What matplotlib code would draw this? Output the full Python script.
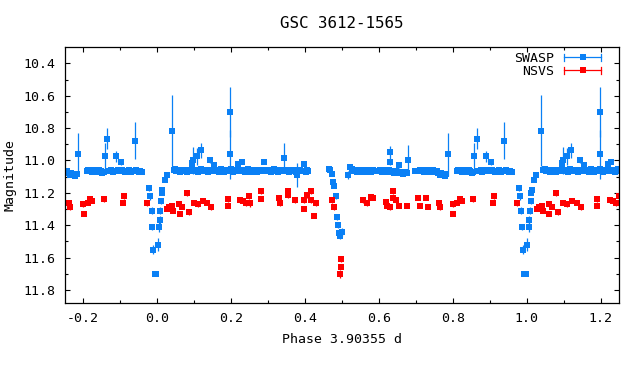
import numpy as np
import matplotlib
matplotlib.use("Agg")
import matplotlib.pyplot as plt
from matplotlib.ticker import MultipleLocator, FormatStrFormatter
from matplotlib.legend_handler import HandlerBase
from matplotlib.lines import Line2D

plt.rcParams['font.family'] = 'DejaVu Sans Mono'
plt.rcParams['font.size'] = 9.5
plt.rcParams['axes.unicode_minus'] = False

PERIOD = "3.90355"
STAR = "GSC 3612-1565"

# SWASP out-of-eclipse points (phase 0..1), one typical error bar
swasp_base_phase = [
    0.045, 0.048, 0.052, 0.055, 0.059, 0.062, 0.066, 0.069, 0.073, 0.076,
    0.080, 0.083, 0.087, 0.090, 0.094, 0.101, 0.104, 0.107, 0.111, 0.115,
    0.118, 0.124, 0.127, 0.131, 0.134, 0.138, 0.141, 0.146, 0.149, 0.152,
    0.157, 0.160, 0.164, 0.167, 0.171, 0.174, 0.178, 0.181, 0.185, 0.188,
    0.192, 0.195, 0.199, 0.203, 0.206, 0.210, 0.213, 0.217, 0.221, 0.224,
    0.228, 0.232, 0.236, 0.239, 0.243, 0.246, 0.250, 0.254, 0.257, 0.261,
    0.264, 0.268, 0.271, 0.275, 0.279, 0.282, 0.286, 0.290, 0.294,
    0.301, 0.305, 0.308, 0.312, 0.316, 0.319, 0.323, 0.327, 0.330, 0.334,
    0.338, 0.346, 0.349, 0.353, 0.357, 0.360, 0.364, 0.368, 0.372, 0.375,
    0.383, 0.387, 0.391, 0.399, 0.402, 0.406, 0.409,
    0.527, 0.531, 0.535, 0.538, 0.542, 0.546, 0.549, 0.553, 0.557, 0.561,
    0.564, 0.568, 0.572, 0.576, 0.579, 0.583, 0.587, 0.591,
    0.600, 0.603, 0.607, 0.611, 0.614, 0.618, 0.622, 0.626, 0.634, 0.638,
    0.642, 0.645, 0.649, 0.657, 0.661, 0.665, 0.668, 0.672, 0.676,
    0.711, 0.715, 0.719, 0.722, 0.726, 0.730, 0.734, 0.737, 0.741, 0.745,
    0.749, 0.752, 0.756, 0.760, 0.764, 0.767, 0.771, 0.775, 0.779, 0.782,
    0.810, 0.813, 0.817, 0.821, 0.824, 0.828, 0.832, 0.836, 0.840, 0.843,
    0.847, 0.851, 0.855, 0.868, 0.872, 0.876, 0.880, 0.884, 0.893, 0.897,
    0.906, 0.910, 0.914, 0.918, 0.921, 0.925, 0.929, 0.933, 0.944, 0.948,
    0.952, 0.955, 0.959,
]
swasp_base_mag = [
    11.060, 11.055, 11.068, 11.062, 11.058, 11.071, 11.064, 11.057, 11.066, 11.060,
    11.073, 11.059, 11.063, 11.068, 11.052, 11.060, 11.066, 11.058, 11.070, 11.061,
    11.055, 11.064, 11.067, 11.058, 11.062, 11.070, 11.056, 11.063, 11.059, 11.068,
    11.061, 11.057, 11.066, 11.072, 11.060, 11.054, 11.063, 11.069, 11.058, 11.064,
    11.060, 11.067, 11.055, 11.062, 11.070, 11.059, 11.065, 11.061, 11.057, 11.068,
    11.063, 11.058, 11.066, 11.072, 11.060, 11.055, 11.064, 11.069, 11.061, 11.057,
    11.066, 11.060, 11.070, 11.063, 11.058, 11.065, 11.061, 11.068, 11.062,
    11.058, 11.064, 11.070, 11.061, 11.055, 11.066, 11.060, 11.072, 11.063, 11.057,
    11.068, 11.062, 11.056, 11.065, 11.071, 11.059, 11.064, 11.067, 11.060, 11.073,
    11.062, 11.057, 11.068, 11.063, 11.070, 11.058, 11.065,
    11.055, 11.062, 11.068, 11.060, 11.073, 11.064, 11.058, 11.066, 11.071, 11.060,
    11.063, 11.069, 11.057, 11.065, 11.072, 11.061, 11.067, 11.063,
    11.062, 11.058, 11.070, 11.064, 11.060, 11.067, 11.073, 11.061, 11.066, 11.070,
    11.075, 11.068, 11.080, 11.078, 11.072, 11.083, 11.076, 11.070, 11.079,
    11.060, 11.066, 11.057, 11.070, 11.063, 11.068, 11.059, 11.072, 11.065, 11.061,
    11.069, 11.074, 11.066, 11.080, 11.088, 11.078, 11.092, 11.085, 11.096, 11.082,
    11.063, 11.058, 11.067, 11.061, 11.070, 11.064, 11.058, 11.066, 11.072, 11.060,
    11.068, 11.080, 11.074, 11.062, 11.067, 11.059, 11.070, 11.064, 11.061, 11.068,
    11.057, 11.065, 11.071, 11.062, 11.066, 11.059, 11.069, 11.063, 11.060, 11.067,
    11.072, 11.064, 11.070,
]
swasp_base_err = 0.012

# SWASP eclipses and scattered points
swasp_phase = [
    0.979, 0.982, 0.985, 0.9875, 0.990, 0.993, 0.997, 0.0015, 0.005, 0.007,
    0.0075, 0.0105, 0.0125, 0.014, 0.0205, 0.0255,
    0.466, 0.469, 0.4725, 0.477, 0.4795, 0.483, 0.487, 0.490, 0.4925, 0.496,
    0.500, 0.517, 0.522,
    0.039, 0.094, 0.098, 0.109, 0.120, 0.144, 0.155, 0.197, 0.197, 0.220,
    0.229, 0.288, 0.342, 0.378, 0.396, 0.630, 0.630, 0.653, 0.680, 0.698,
    0.787, 0.858, 0.864, 0.890, 0.903, 0.939,
]
swasp_mag = [
    11.169, 11.222, 11.310, 11.410, 11.550, 11.700, 11.700, 11.520, 11.410, 11.370,
    11.310, 11.250, 11.200, 11.180, 11.120, 11.090,
    11.050, 11.060, 11.085, 11.130, 11.155, 11.220, 11.350, 11.400, 11.450, 11.465,
    11.440, 11.090, 11.040,
    10.815, 11.017, 11.000, 10.975, 10.938, 11.000, 11.030, 10.700, 10.963, 11.020,
    11.010, 11.010, 10.985, 11.090, 11.020, 10.950, 11.010, 11.030, 10.995, 11.068,
    10.963, 10.970, 10.866, 10.975, 11.010, 10.877,
]
swasp_err = [
    0.018, 0.020, 0.020, 0.020, 0.030, 0.012, 0.012, 0.040, 0.030, 0.030,
    0.020, 0.020, 0.015, 0.015, 0.012, 0.012,
    0.012, 0.012, 0.012, 0.012, 0.015, 0.015, 0.020, 0.020, 0.020, 0.020,
    0.025, 0.024, 0.012,
    0.220, 0.020, 0.085, 0.050, 0.045, 0.015, 0.015, 0.155, 0.150, 0.015,
    0.012, 0.012, 0.090, 0.073, 0.015, 0.040, 0.015, 0.015, 0.090, 0.012,
    0.130, 0.080, 0.066, 0.035, 0.015, 0.114,
]

# NSVS points
nsvs_phase = [
    0.028, 0.032, 0.041, 0.044, 0.060, 0.061, 0.068, 0.080, 0.085, 0.099,
    0.110, 0.123, 0.135, 0.147, 0.191, 0.191, 0.224, 0.233, 0.241, 0.249,
    0.2515, 0.282, 0.282, 0.331, 0.333, 0.355, 0.355, 0.374, 0.398, 0.398,
    0.405, 0.4165, 0.417, 0.4255, 0.430, 0.474, 0.4795, 0.4977, 0.497, 0.495,
    0.556, 0.567, 0.578, 0.585, 0.619, 0.623, 0.630, 0.6375, 0.639, 0.646,
    0.653, 0.677, 0.707, 0.711, 0.7276, 0.734, 0.762, 0.764, 0.800, 0.801,
    0.812, 0.818, 0.824, 0.855, 0.909, 0.911, 0.973,
]
nsvs_mag = [
    11.300, 11.290, 11.280, 11.310, 11.270, 11.330, 11.285, 11.200, 11.320, 11.260,
    11.270, 11.250, 11.260, 11.290, 11.240, 11.280, 11.246, 11.250, 11.265, 11.220,
    11.265, 11.190, 11.235, 11.230, 11.265, 11.190, 11.215, 11.245, 11.245, 11.300,
    11.215, 11.190, 11.245, 11.340, 11.265, 11.245, 11.290, 11.610, 11.655, 11.700,
    11.245, 11.265, 11.225, 11.230, 11.255, 11.280, 11.290, 11.190, 11.230, 11.245,
    11.280, 11.280, 11.230, 11.280, 11.230, 11.285, 11.260, 11.290, 11.270, 11.330,
    11.260, 11.240, 11.250, 11.240, 11.260, 11.220, 11.265,
]
nsvs_err = [
    0.015, 0.015, 0.015, 0.015, 0.015, 0.015, 0.015, 0.020, 0.015, 0.015,
    0.015, 0.015, 0.015, 0.015, 0.015, 0.015, 0.015, 0.015, 0.015, 0.020,
    0.020, 0.015, 0.015, 0.015, 0.015, 0.015, 0.015, 0.015, 0.015, 0.015,
    0.015, 0.015, 0.015, 0.015, 0.015, 0.015, 0.015, 0.020, 0.015, 0.025,
    0.015, 0.015, 0.015, 0.015, 0.015, 0.015, 0.015, 0.020, 0.015, 0.015,
    0.015, 0.015, 0.015, 0.015, 0.015, 0.015, 0.015, 0.015, 0.015, 0.015,
    0.015, 0.015, 0.015, 0.015, 0.015, 0.020, 0.015,
]

BLUE = '#0a80f5'
RED = '#ff0000'


def fold(phase, mag, err):
    # repeat the last/first quarter of the cycle on both sides
    phase = np.asarray(phase, float)
    mag = np.asarray(mag, float)
    err = np.broadcast_to(np.asarray(err, float), phase.shape)
    lo = phase >= 0.75
    hi = phase <= 0.25
    ph = np.concatenate([phase, phase[lo] - 1, phase[hi] + 1])
    m = np.concatenate([mag, mag[lo], mag[hi]])
    e = np.concatenate([err, err[lo], err[hi]])
    return ph, m, e


class ErrKey(HandlerBase):
    # gnuplot-like key: horizontal bar with end caps and a point in the middle
    def create_artists(self, legend, orig_handle, xdescent, ydescent,
                       width, height, fontsize, trans):
        c = orig_handle.get_color()
        x0, x1 = -xdescent, -xdescent + width
        y = -ydescent + height / 2
        h = 2.5
        arts = [
            Line2D([x0, x1], [y, y], color=c, lw=0.9),
            Line2D([x0, x0], [y - h, y + h], color=c, lw=0.9),
            Line2D([x1, x1], [y - h, y + h], color=c, lw=0.9),
            Line2D([(x0 + x1) / 2], [y], color=c, marker='s', ms=4.5,
                   mew=0, ls='none'),
        ]
        for a in arts:
            a.set_transform(trans)
        return arts


fig = plt.figure(figsize=(6.4, 3.84), dpi=100)
ax = fig.add_axes([64.7 / 640, 80.7 / 384, 554.5 / 640, 256 / 384])

sp, sm, se = fold(swasp_base_phase + swasp_phase,
                  swasp_base_mag + swasp_mag,
                  [swasp_base_err] * len(swasp_base_phase) + swasp_err)
ax.errorbar(sp, sm, yerr=se, fmt='s', color=BLUE, ms=4.5, mew=0,
            elinewidth=0.9, capsize=1.8, capthick=0.9)

npx, nm, ne = fold(nsvs_phase, nsvs_mag, nsvs_err)
ax.errorbar(npx, nm, yerr=ne, fmt='s', color=RED, ms=4.8, mew=0,
            elinewidth=0.9, capsize=1.8, capthick=0.9)

ax.set_xlim(-0.25, 1.25)
ax.set_ylim(11.882, 10.301)

ax.xaxis.set_major_locator(MultipleLocator(0.2))
ax.xaxis.set_minor_locator(MultipleLocator(0.1))
ax.yaxis.set_major_locator(MultipleLocator(0.2))
ax.yaxis.set_minor_locator(MultipleLocator(0.1))
ax.xaxis.set_major_formatter(FormatStrFormatter('%.1f'))
ax.yaxis.set_major_formatter(FormatStrFormatter('%.1f'))
ax.tick_params(which='both', direction='in', top=True, right=True,
               width=0.8, color='black')
ax.tick_params(which='major', length=3.6)
ax.tick_params(which='minor', length=1.9)
ax.tick_params(axis='x', pad=6)
ax.tick_params(axis='y', pad=6.5)
for s in ax.spines.values():
    s.set_linewidth(0.9)

ax.set_title(STAR, pad=14)
ax.set_xlabel("Phase " + PERIOD + " d", labelpad=6)
ax.set_ylabel("Magnitude", labelpad=5)

keys = [Line2D([], [], color=BLUE), Line2D([], [], color=RED)]
ax.legend(keys, ['SWASP', 'NSVS'], loc='upper right',
          bbox_to_anchor=(0.967, 0.983), frameon=False, markerfirst=False,
          borderpad=0, borderaxespad=0, handlelength=2.76,
          handletextpad=0.8, labelspacing=0.0,
          handler_map={Line2D: ErrKey()})

fig.savefig('out.png', dpi=100)
